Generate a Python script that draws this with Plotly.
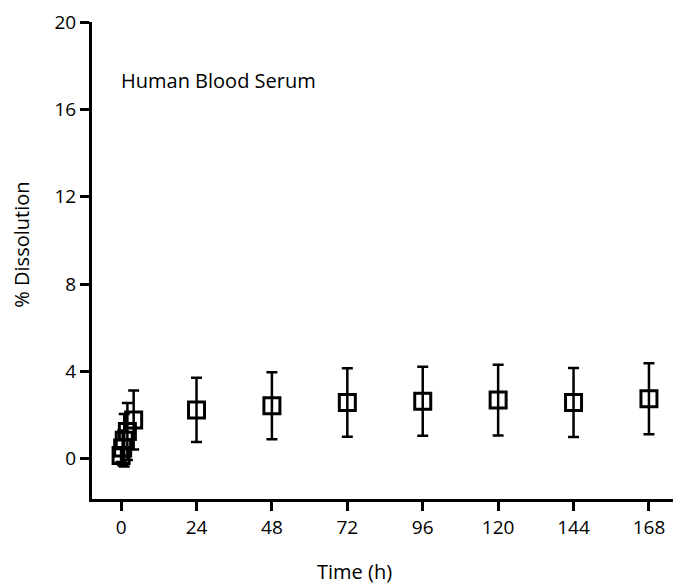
import plotly.graph_objects as go

# Data
time_h = [0, 0.5, 1, 2, 4, 24, 48, 72, 96, 120, 144, 168]
dissolution = [0.15, 0.5, 0.85, 1.25, 1.78, 2.24, 2.43, 2.58, 2.64, 2.69, 2.58, 2.75]
sd = [0.3, 0.8, 1.2, 1.3, 1.35, 1.47, 1.53, 1.57, 1.58, 1.62, 1.58, 1.63]

x_ticks = [0, 24, 48, 72, 96, 120, 144, 168]
y_ticks = [0, 4, 8, 12, 16, 20]

FONT = "Open Sans"

# page has an 8px body margin; figure size and margins compensate for it
OFF = 8
W, H = 681 - OFF, 585 - OFF
L, R, T, B = 84.2, 0, 14, 85.8


def px_to_paper(px, py):
    """page pixel -> paper coords"""
    fx = px - OFF
    fy = py - OFF
    return (fx - L) / (W - L - R), (H - B - fy) / (H - T - B)


fig = go.Figure()
fig.add_trace(go.Scatter(
    x=time_h, y=dissolution,
    mode="markers",
    marker=dict(symbol="square-open", size=16, color="black",
                line=dict(width=3, color="black")),
    error_y=dict(type="data", array=sd, visible=True,
                 color="black", thickness=2.5, width=5.5),
    showlegend=False,
))

axis_common = dict(showgrid=False, zeroline=False,
                   showline=True, linecolor="black", linewidth=3,
                   ticks="outside", ticklen=9, tickwidth=3, tickcolor="black",
                   tickfont=dict(family=FONT, size=19, color="black"))

tx, ty = px_to_paper(355, 572)
yx, yy = px_to_paper(22, 245)

fig.update_layout(
    width=W, height=H,
    margin=dict(l=L, r=R, t=T, b=B, pad=0),
    paper_bgcolor="white", plot_bgcolor="white",
    font=dict(family=FONT, size=19, color="black"),
    xaxis=dict(range=[-9.26, 178.2], tickvals=x_ticks,
               ticktext=[str(v) for v in x_ticks], **axis_common),
    yaxis=dict(range=[-1.84, 20], tickvals=y_ticks,
               ticktext=[str(v) for v in y_ticks], **axis_common),
    annotations=[
        dict(text="Human Blood Serum", x=-0.7, y=17.3, xref="x", yref="y",
             xanchor="left", yanchor="middle", showarrow=False,
             font=dict(family=FONT, size=20)),
        dict(text="Time (h)", x=tx, y=ty, xref="paper", yref="paper",
             xanchor="center", yanchor="middle",
             showarrow=False, font=dict(family=FONT, size=20)),
        dict(text="% Dissolution", x=yx, y=yy, xref="paper", yref="paper",
             xanchor="center", yanchor="middle",
             textangle=-90, showarrow=False, font=dict(family=FONT, size=20)),
    ],
)

fig.write_html("out.html")
